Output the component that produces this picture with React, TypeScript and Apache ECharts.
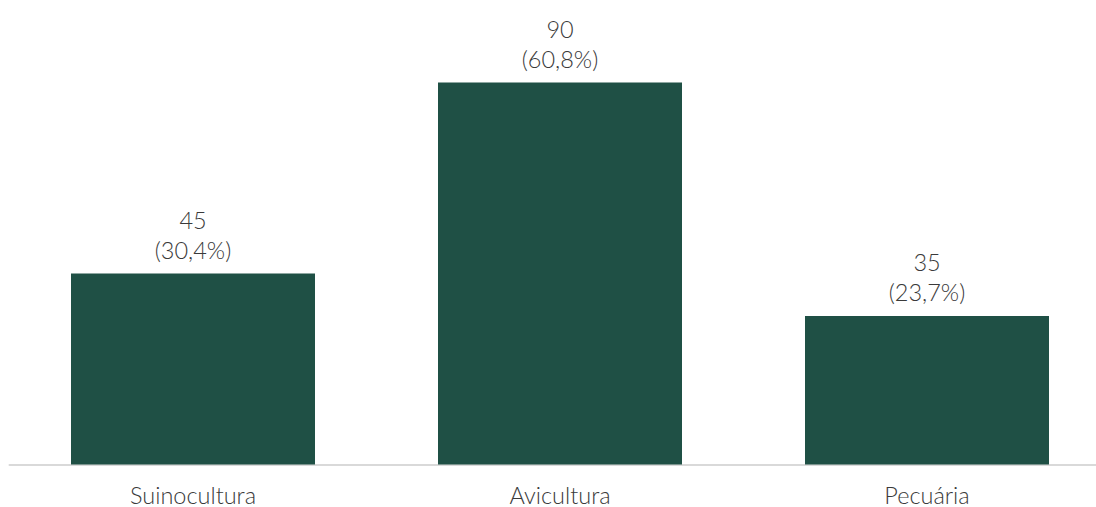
import React, { useEffect, useRef } from "react";
import * as echarts from "echarts";

const categories = ["Suinocultura", "Avicultura", "Pecuária"];
const values = [45, 90, 35];
const shares = ["30,4%", "60,8%", "23,7%"];

export default function App() {
  const ref = useRef<HTMLDivElement>(null);
  useEffect(() => {
    if (!ref.current) return;
    const chart = echarts.init(ref.current, null, { renderer: "svg" });
    chart.setOption({
      animation: false,
      grid: { left: 9.5, top: 82.5, right: 9.5, height: 382, containLabel: false },
      xAxis: {
        type: "category",
        data: categories,
        axisLine: { lineStyle: { color: "#d9d9d9", width: 2 } },
        axisTick: { show: false },
        axisLabel: {
          color: "#3a3a3a",
          fontFamily: "Lato",
          fontWeight: 300,
          fontSize: 23.5,
          lineHeight: 20,
          margin: 20,
        },
      },
      yAxis: {
        type: "value",
        min: 0,
        max: 90,
        show: false,
        splitLine: { show: false },
      },
      series: [
        {
          type: "bar",
          data: values,
          barWidth: 244,
          itemStyle: { color: "#1f5045" },
          label: {
            show: true,
            position: "top",
            distance: 9,
            color: "#3a3a3a",
            fontFamily: "Lato",
            fontWeight: 300,
            fontSize: 23.5,
            lineHeight: 30,
            formatter: (p: any) => `${values[p.dataIndex]}\n(${shares[p.dataIndex]})`,
          },
        },
      ],
    });
    return () => chart.dispose();
  }, []);
  return (
    <div style={{ position: "absolute", left: 0, top: 0, width: 1096, height: 507, overflow: "hidden" }}>
      <div ref={ref} style={{ width: 1120, height: 507 }} />
    </div>
  );
}
